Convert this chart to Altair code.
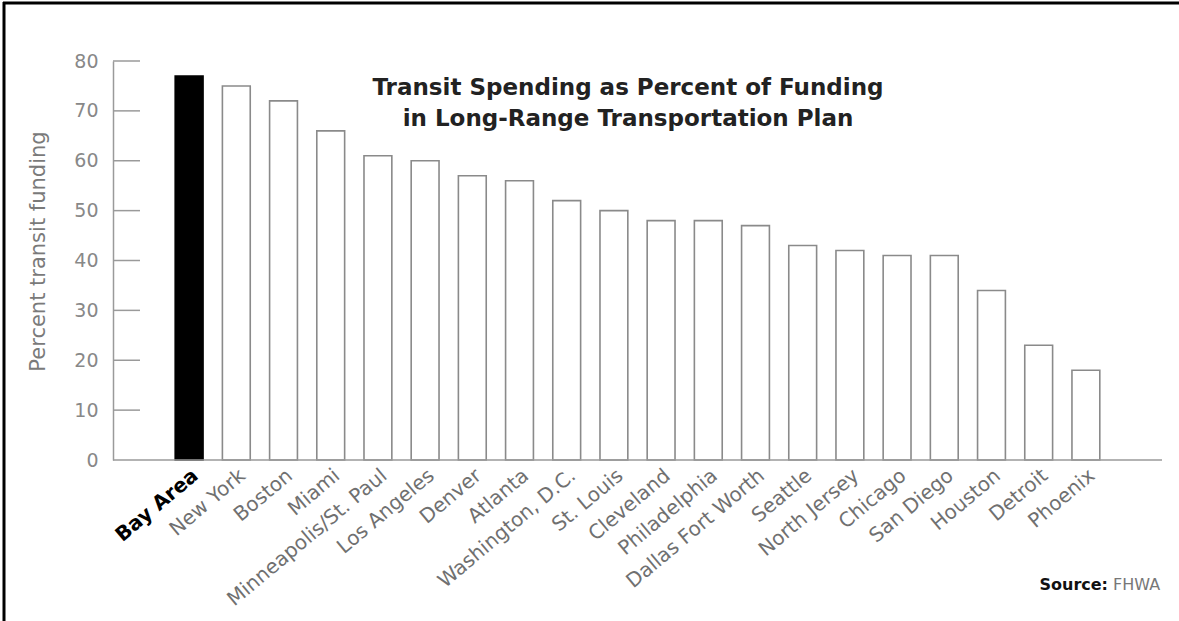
import altair as alt
import pandas as pd

cities = ["Bay Area", "New York", "Boston", "Miami", "Minneapolis/St. Paul",
          "Los Angeles", "Denver", "Atlanta", "Washington, D.C.", "St. Louis",
          "Cleveland", "Philadelphia", "Dallas Fort Worth", "Seattle",
          "North Jersey", "Chicago", "San Diego", "Houston", "Detroit", "Phoenix"]
pct = [77, 75, 72, 66, 61, 60, 57, 56, 52, 50, 48, 48, 47, 43, 42, 41, 41, 34, 23, 18]
highlight = "Bay Area"
y_ticks = [0, 10, 20, 30, 40, 50, 60, 70, 80]
title_lines = ["Transit Spending as Percent of Funding",
               "in Long-Range Transportation Plan"]
y_title = "Percent transit funding"
source_bold = "Source:"
source_rest = "FHWA"

W, H = 1049, 399
FONT = "DejaVu Sans"

df = pd.DataFrame({"city": cities, "pct": pct,
                   "hl": [c == highlight for c in cities]})
ticks_df = pd.DataFrame({"pct": [v for v in y_ticks if v > 0]})

x_enc = alt.X(
    "city:N", sort=cities,
    scale=alt.Scale(paddingInner=0.41, paddingOuter=1, range=[15, 1034]),
    axis=alt.Axis(
        title=None, labelAngle=-40, labelAlign="right", labelBaseline="top",
        ticks=False, domain=False, labelPadding=5, labelLimit=0,
        labelFontSize=20, labelFont=FONT,
        labelColor=alt.condition(f"datum.value == '{highlight}'",
                                 alt.value("#000000"), alt.value("#707070")),
        labelFontWeight=alt.condition(f"datum.value == '{highlight}'",
                                      alt.value("bold"), alt.value("normal")),
    ),
)

y_enc = alt.Y(
    "pct:Q",
    scale=alt.Scale(domain=[0, 80]),
    axis=alt.Axis(
        values=y_ticks, ticks=False, grid=False, title=y_title,
        titleFont=FONT, titleFontSize=21, titleColor="#7a7a7a",
        titleFontWeight="normal", titlePadding=25, titleY=190,
        labelFont=FONT, labelFontSize=19, labelColor="#888888",
        labelPadding=15, domainColor="#9a9a9a", domainWidth=1.5,
    ),
)

bars = alt.Chart(df).mark_bar(strokeWidth=1.6).encode(
    x=x_enc,
    y=y_enc,
    fill=alt.condition(alt.datum.hl, alt.value("#000000"), alt.value("#ffffff")),
    stroke=alt.condition(alt.datum.hl, alt.value("#000000"), alt.value("#8a8a8a")),
)

tick_rules = alt.Chart(ticks_df).mark_rule(color="#9a9a9a", strokeWidth=1.5).encode(
    y=alt.Y("pct:Q"),
    x=alt.value(0),
    x2=alt.value(27),
)

baseline = alt.Chart(pd.DataFrame({"pct": [0]})).mark_rule(
    color="#9a9a9a", strokeWidth=1.5
).encode(y=alt.Y("pct:Q"), x=alt.value(0), x2=alt.value(W))

title_df = pd.DataFrame({"t": ["\n".join(title_lines)]})
title = alt.Chart(title_df).mark_text(
    lineBreak="\n", lineHeight=31, font=FONT, fontSize=23, fontWeight="bold",
    color="#222222", align="center", baseline="top",
).encode(text="t:N", x=alt.value(515), y=alt.value(16))

src1 = alt.Chart(pd.DataFrame({"t": [source_bold]})).mark_text(
    font=FONT, fontSize=16, fontWeight="bold", color="#111111",
    align="right", baseline="middle",
).encode(text="t:N", x=alt.value(995), y=alt.value(524))

src2 = alt.Chart(pd.DataFrame({"t": [source_rest]})).mark_text(
    font=FONT, fontSize=16, fontWeight="normal", color="#777777",
    align="left", baseline="middle",
).encode(text="t:N", x=alt.value(1000), y=alt.value(524))

frame_left = alt.Chart(pd.DataFrame({"k": [0]})).mark_rule(
    color="#000000", strokeWidth=3
).encode(x=alt.value(-109), y=alt.value(-59), y2=alt.value(560))

frame_top = alt.Chart(pd.DataFrame({"k": [0]})).mark_rule(
    color="#000000", strokeWidth=3
).encode(x=alt.value(-110), x2=alt.value(1066), y=alt.value(-58))

chart = alt.layer(bars, tick_rules, baseline, title, src1, src2, frame_left, frame_top).properties(
    width=W, height=H,
    autosize=alt.AutoSizeParams(type="none"),
    padding={"left": 113, "top": 61, "right": 17, "bottom": 161},
    background="#ffffff",
).configure_view(strokeWidth=0)

chart.save("out.html", embed_options={"renderer": "svg", "actions": False})
